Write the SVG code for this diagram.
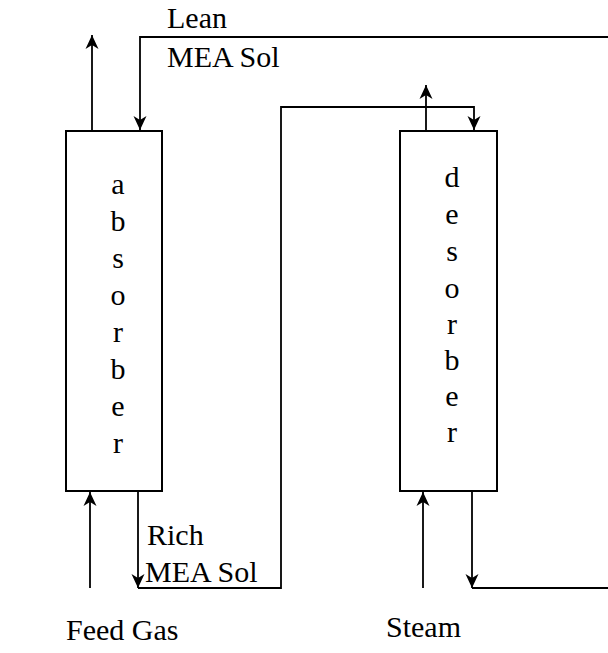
<svg xmlns="http://www.w3.org/2000/svg" width="608" height="653" viewBox="0 0 608 653">
<style>
  .box{fill:#fff;stroke:#000;stroke-width:2}
  .ln{fill:none;stroke:#000;stroke-width:1.8}
  text{font-family:'Liberation Serif','DejaVu Serif','Times New Roman',serif;font-size:30px;fill:#000}
  .v{text-anchor:middle}
</style>
<defs>
  <marker id="ah" markerUnits="userSpaceOnUse" markerWidth="14" markerHeight="14" refX="14" refY="7" orient="auto" viewBox="0 0 14 14">
    <path d="M0,0.5 L14,7 L0,13.5 L4,7 z" fill="#000"/>
  </marker>
</defs>
<rect width="608" height="653" fill="#fff"/>
<g id="connectors">
  <path class="ln" d="M92,131 L92,35" marker-end="url(#ah)"/>
  <path class="ln" d="M608,37 L140,37 L140,130" marker-end="url(#ah)"/>
  <path class="ln" d="M138,491 L138,588" marker-end="url(#ah)"/>
  <path class="ln" d="M138,588 L281,588 L281,107 L474,107 L474,130" marker-end="url(#ah)"/>
  <path class="ln" d="M90,588 L90,492" marker-end="url(#ah)"/>
  <path class="ln" d="M426,131 L426,85" marker-end="url(#ah)"/>
  <path class="ln" d="M423,588 L423,492" marker-end="url(#ah)"/>
  <path class="ln" d="M472,491 L472,588" marker-end="url(#ah)"/>
  <path class="ln" d="M472,588 L608,588"/>
</g>
<g id="absorber">
  <rect class="box" x="66" y="131" width="96" height="360"/>
  <text class="v" x="118" y="194">a</text>
  <text class="v" x="118" y="231">b</text>
  <text class="v" x="118" y="268">s</text>
  <text class="v" x="118" y="305">o</text>
  <text class="v" x="118" y="342">r</text>
  <text class="v" x="118" y="379">b</text>
  <text class="v" x="118" y="416">e</text>
  <text class="v" x="118" y="453">r</text>
</g>
<g id="desorber">
  <rect class="box" x="400" y="131" width="97" height="360"/>
  <text class="v" x="452" y="187">d</text>
  <text class="v" x="452" y="224">e</text>
  <text class="v" x="452" y="261">s</text>
  <text class="v" x="452" y="298">o</text>
  <text class="v" x="452" y="334">r</text>
  <text class="v" x="452" y="370">b</text>
  <text class="v" x="452" y="406">e</text>
  <text class="v" x="452" y="442">r</text>
</g>
<g id="labels">
  <text x="167" y="28">Lean</text>
  <text x="167" y="67">MEA Sol</text>
  <text x="147" y="545">Rich</text>
  <text x="145" y="582">MEA Sol</text>
  <text x="66" y="640">Feed Gas</text>
  <text x="386" y="637">Steam</text>
</g>
</svg>
